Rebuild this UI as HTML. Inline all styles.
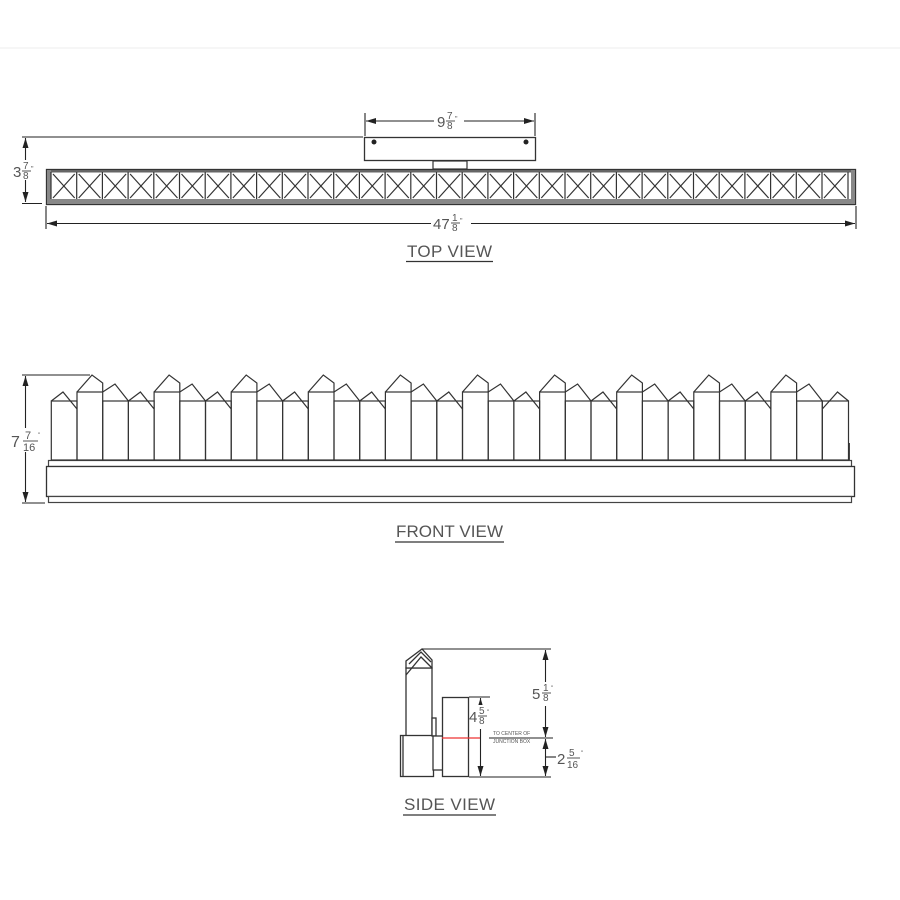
<!DOCTYPE html>
<html><head><meta charset="utf-8"><style>
html,body{margin:0;padding:0;background:#fff;}
svg{display:block;}
text{font-family:"Liberation Sans",sans-serif;fill:#555;}
</style></head><body>
<svg width="900" height="900" viewBox="0 0 900 900" xmlns="http://www.w3.org/2000/svg">
<defs>
<marker id="ar" markerWidth="10" markerHeight="6" refX="10" refY="3" orient="auto-start-reverse" markerUnits="userSpaceOnUse">
<path d="M0,0 L10,3 L0,6 Z" fill="#222"/>
</marker>
<g id="cell" fill="none" stroke="#333" stroke-width="1.2">
<line x1="0" y1="172" x2="0" y2="199"/>
<line x1="2" y1="174" x2="23.7" y2="198"/>
<line x1="23.7" y1="174" x2="2" y2="198"/>
</g>
<g id="grp" fill="none" stroke="#333" stroke-width="1.2">
<rect x="0" y="392" width="25.7" height="68"/>
<polyline points="0,392 15,375 25.7,383 25.7,392"/>
<rect x="25.7" y="401" width="25.7" height="59"/>
<polyline points="25.7,392 38,384 51.4,401"/>
<rect x="51.4" y="401" width="25.7" height="59"/>
<polyline points="51.4,401 63.4,392 77.1,409"/>
</g>
</defs>
<line x1="0" y1="48" x2="900" y2="48" stroke="#eee" stroke-width="1"/>

<!-- TOP VIEW -->
<rect x="364.5" y="137.5" width="171" height="23" fill="#fff" stroke="#333" stroke-width="1.3"/>
<circle cx="374" cy="142" r="2.5" fill="#222"/>
<circle cx="526" cy="142" r="2.5" fill="#222"/>
<rect x="433" y="161" width="34" height="8" fill="#fff" stroke="#333" stroke-width="1.2"/>
<rect x="46.5" y="169.5" width="809" height="35" fill="#fff" stroke="#333" stroke-width="1.3"/>
<rect x="47" y="199" width="808" height="5" fill="#888"/>
<rect x="47" y="170" width="808" height="2.5" fill="#666"/>
<rect x="47" y="170" width="4" height="30" fill="#888"/>
<rect x="851" y="170" width="4" height="30" fill="#888"/>
<use href="#cell" x="51"/><use href="#cell" x="76.7"/><use href="#cell" x="102.4"/><use href="#cell" x="128.1"/><use href="#cell" x="153.8"/><use href="#cell" x="179.5"/><use href="#cell" x="205.2"/><use href="#cell" x="230.9"/><use href="#cell" x="256.6"/><use href="#cell" x="282.3"/><use href="#cell" x="308"/><use href="#cell" x="333.7"/><use href="#cell" x="359.4"/><use href="#cell" x="385.1"/><use href="#cell" x="410.8"/><use href="#cell" x="436.5"/><use href="#cell" x="462.2"/><use href="#cell" x="487.9"/><use href="#cell" x="513.6"/><use href="#cell" x="539.3"/><use href="#cell" x="565"/><use href="#cell" x="590.7"/><use href="#cell" x="616.4"/><use href="#cell" x="642.1"/><use href="#cell" x="667.8"/><use href="#cell" x="693.5"/><use href="#cell" x="719.2"/><use href="#cell" x="744.9"/><use href="#cell" x="770.6"/><use href="#cell" x="796.3"/><use href="#cell" x="822"/>
<line x1="848" y1="172" x2="848" y2="199" stroke="#333" stroke-width="1.2"/>

<g stroke="#222" stroke-width="1.1" fill="none">
<line x1="22" y1="137" x2="363" y2="137"/>
<line x1="22" y1="203.5" x2="42" y2="203.5"/>
<line x1="25.5" y1="138" x2="25.5" y2="202" marker-start="url(#ar)" marker-end="url(#ar)"/>
<line x1="365" y1="113" x2="365" y2="136"/>
<line x1="535" y1="113" x2="535" y2="136"/>
<line x1="366" y1="121" x2="534" y2="121" marker-start="url(#ar)" marker-end="url(#ar)"/>
<line x1="46" y1="206" x2="46" y2="229"/>
<line x1="856" y1="206" x2="856" y2="229"/>
<line x1="47" y1="223.5" x2="855" y2="223.5" marker-start="url(#ar)" marker-end="url(#ar)"/>
</g>
<rect x="10" y="160" width="30" height="20" fill="#fff"/>
<text x="13" y="177" font-size="15">3</text><text x="23" y="169" font-size="10">7</text><line x1="22" y1="171" x2="31" y2="171" stroke="#555"/><text x="23" y="179" font-size="10">8</text><text x="31" y="171" font-size="7">"</text>
<rect x="434" y="112" width="30" height="18" fill="#fff"/>
<text x="437" y="127" font-size="15">9</text><text x="447" y="119" font-size="10">7</text><line x1="446" y1="121" x2="455" y2="121" stroke="#555"/><text x="447" y="129" font-size="10">8</text><text x="455" y="121" font-size="7">"</text>
<rect x="431" y="214" width="40" height="18" fill="#fff"/>
<text x="433" y="229" font-size="15">47</text><text x="452" y="221" font-size="10">1</text><line x1="451" y1="223" x2="460" y2="223" stroke="#555"/><text x="452" y="231" font-size="10">8</text><text x="460" y="223" font-size="7">"</text>
<text x="407" y="257" font-size="17" textLength="85">TOP VIEW</text>
<line x1="406" y1="261.5" x2="493" y2="261.5" stroke="#333" stroke-width="1.3"/>

<!-- FRONT VIEW -->
<rect x="48.5" y="460.5" width="803" height="6" fill="#fff" stroke="#444" stroke-width="1.2"/>
<rect x="46.5" y="466.5" width="808" height="30" fill="#fff" stroke="#333" stroke-width="1.3"/>
<rect x="48.5" y="496.5" width="803" height="6" fill="#fff" stroke="#444" stroke-width="1.2"/>
<g fill="none" stroke="#333" stroke-width="1.2">
<rect x="51.3" y="401" width="25.7" height="59"/>
<polyline points="51.3,401 63,392 77,409"/>
</g>
<use href="#grp" x="77"/><use href="#grp" x="154.1"/><use href="#grp" x="231.2"/><use href="#grp" x="308.3"/><use href="#grp" x="385.4"/><use href="#grp" x="462.5"/><use href="#grp" x="539.6"/><use href="#grp" x="616.7"/><use href="#grp" x="693.8"/>
<g fill="none" stroke="#333" stroke-width="1.2">
<rect x="770.9" y="392" width="25.7" height="68"/>
<polyline points="770.9,392 785.9,375 796.6,383 796.6,392"/>
<rect x="796.6" y="401" width="25.7" height="59"/>
<polyline points="796.6,392 809,384 822.3,401"/>
<rect x="822.3" y="401" width="26.2" height="59"/>
<polyline points="822.3,409 837.5,392 848.5,401"/>
</g>
<line x1="849.5" y1="443" x2="849.5" y2="460" stroke="#444"/>
<g stroke="#222" stroke-width="1.1" fill="none">
<line x1="22" y1="375" x2="90" y2="375"/>
<line x1="22" y1="503" x2="45" y2="503"/>
<line x1="25.5" y1="376" x2="25.5" y2="502" marker-start="url(#ar)" marker-end="url(#ar)"/>
</g>
<rect x="10" y="428" width="32" height="24" fill="#fff"/>
<text x="11" y="447" font-size="16">7</text><text x="25" y="439" font-size="11">7</text><line x1="23" y1="441" x2="38" y2="441" stroke="#555"/><text x="23" y="451" font-size="11">16</text><text x="38" y="437" font-size="6">"</text>
<text x="396" y="537" font-size="17" textLength="107">FRONT VIEW</text>
<line x1="395" y1="542" x2="504" y2="542" stroke="#333" stroke-width="1.3"/>

<!-- SIDE VIEW -->
<g fill="#fff" stroke="#333" stroke-width="1.3">
<rect x="406" y="668" width="26" height="68"/>
<polygon points="406,668 406,661 422,649 432,660 432,668"/>
<polyline points="406,675 421,657 432,668" fill="none"/>
<polyline points="409,664 421,652 431,662" fill="none"/>
<rect x="400.5" y="735.5" width="33" height="41"/>
<line x1="403" y1="736" x2="403" y2="776"/>
<rect x="432" y="718" width="4" height="18"/>
<rect x="433" y="736" width="10" height="34"/>
<rect x="442.5" y="697.5" width="26" height="79"/>
</g>
<line x1="442" y1="738" x2="481" y2="738" stroke="#e33" stroke-width="1.3"/>
<g stroke="#222" stroke-width="1.1" fill="none">
<line x1="422" y1="649" x2="551" y2="649"/>
<line x1="469" y1="697" x2="490" y2="697"/>
<line x1="469" y1="777" x2="551" y2="777"/>
<line x1="489" y1="738" x2="553" y2="738"/>
<line x1="480.5" y1="698" x2="480.5" y2="776" marker-start="url(#ar)" marker-end="url(#ar)"/>
<line x1="545.5" y1="650" x2="545.5" y2="737" marker-start="url(#ar)" marker-end="url(#ar)"/>
<line x1="545.5" y1="739" x2="545.5" y2="776" marker-start="url(#ar)" marker-end="url(#ar)"/>
<line x1="546" y1="757" x2="556" y2="757"/>
</g>
<rect x="470" y="705" width="20" height="24" fill="#fff"/>
<text x="469" y="722" font-size="15">4</text><text x="479" y="714" font-size="10">5</text><line x1="478" y1="716" x2="487" y2="716" stroke="#555"/><text x="479" y="724" font-size="10">8</text><text x="487" y="714" font-size="6">"</text>
<rect x="533" y="682" width="26" height="24" fill="#fff"/>
<text x="532" y="699" font-size="15">5</text><text x="543" y="691" font-size="10">1</text><line x1="542" y1="693" x2="551" y2="693" stroke="#555"/><text x="543" y="701" font-size="10">8</text><text x="551" y="690" font-size="6">"</text>
<text x="557" y="764" font-size="15">2</text><text x="569" y="756" font-size="10">5</text><line x1="567" y1="758" x2="580" y2="758" stroke="#555"/><text x="567" y="768" font-size="10">16</text><text x="581" y="755" font-size="6">"</text>
<text x="493" y="735" font-size="5">TO CENTER OF</text>
<text x="493" y="743" font-size="5">JUNCTION BOX</text>
<text x="404" y="810" font-size="17" textLength="91">SIDE VIEW</text>
<line x1="403" y1="815" x2="496" y2="815" stroke="#333" stroke-width="1.3"/>
</svg>
</body></html>
